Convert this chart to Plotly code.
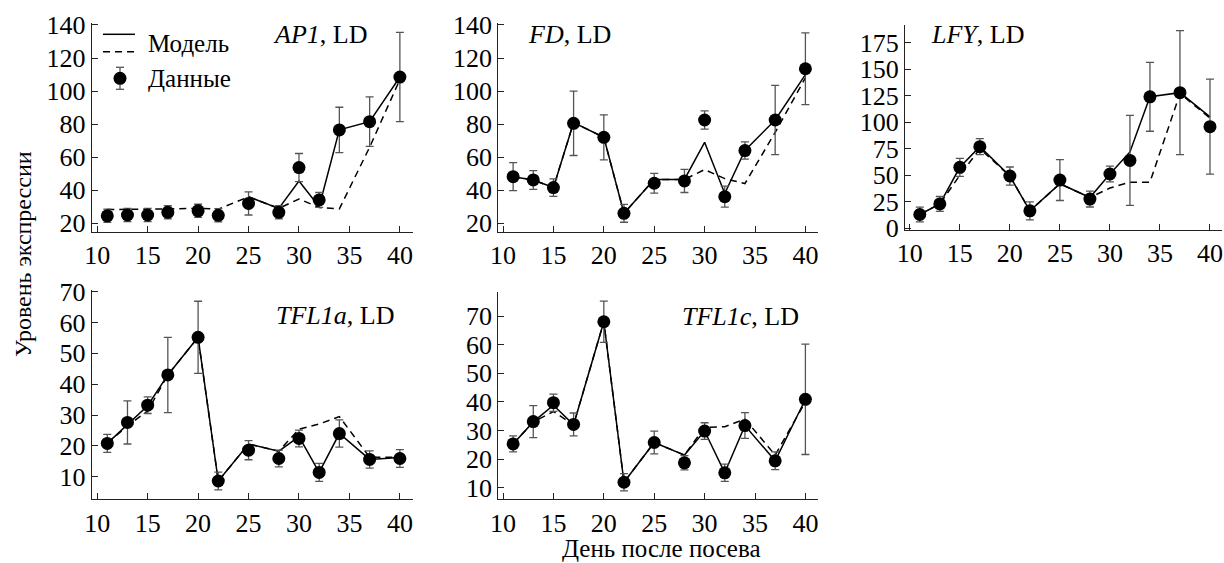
import plotly.graph_objects as go

# ---------------- data ----------------
days = [11, 13, 15, 17, 20, 22, 25, 28, 30, 32, 34, 37, 40]

ap1_data = [24.5, 25, 25, 26.6, 27.5, 24.8, 32, 26.6, 53.7, 34.1, 76.5, 81.5, 108.5]
ap1_err = [4, 4, 4, 4, 4, 4, 7, 4, 8.5, 4.5, 13.7, 15, 27]
ap1_model = [None, None, None, None, None, None, 36, 29, 45.5, 30, 76.5, 81.5, 108.5]
ap1_model2 = [28.3, 28.3, 28.5, 28.7, 29, 28.5, 36, 29, 34.7, 29.5, 28.7, 66, 107]

fd_data = [48.2, 46.2, 41.6, 80.5, 72, 26, 44.2, 45.6, 82.5, 36.1, 64, 82.5, 113.5]
fd_err = [8.5, 5.7, 5.3, 19.5, 13.6, 5.4, 6, 7, 5.5, 6.4, 5.2, 21, 21.7]
fd_model = [48.2, 46.2, 41.6, 81, 72, 26, 46.5, 46.5, 69, 38, 64, 82.5, 110]
fd_model2 = [48.2, 46.2, 41.6, 81, 72, 26, 46.5, 46.5, 52.5, 47, 44, 75, 108]

lfy_data = [13, 23, 57.5, 77, 49.3, 16.5, 45.5, 27.6, 51.2, 64, 124, 127.9, 95.8]
lfy_err = [7, 7, 8.5, 7.5, 8.5, 8.5, 19.3, 7.5, 7.4, 42.4, 32.5, 58.5, 44.8]
lfy_model = [13, 23, 57.5, 77, 49.3, 16.5, 42, 29, 51.2, 72, 124, 127.9, 105]
lfy_model2 = [13, 23, 50, 75, 49.3, 16.5, 42, 29, 38, 43.5, 43.5, 127, 104]

tfl1a_data = [20.8, 27.6, 33.2, 43, 55.2, 8.6, 18.6, 15.9, 22.4, 11.4, 24, 15.6, 15.9]
tfl1a_err = [2.9, 7, 2.7, 12.2, 11.7, 2.9, 3.1, 2.7, 2.7, 2.9, 4.4, 2.8, 2.9]
tfl1a_model = [20.8, 27, 33, 43, 55.2, 8.6, 20.6, 18.3, 23, 11.4, 24, 15.6, 16.2]
tfl1a_model2 = [20.8, 26.5, 31.3, 43, 55.2, 8.6, 20.6, 18.3, 25.4, 27.1, 29.5, 16.3, 16.3]

tfl1c_data = [25.3, 33.1, 39.7, 32.1, 68, 11.9, 25.8, 18.7, 29.8, 15.2, 31.7, 19.4, 40.9]
tfl1c_err = [2.8, 5.6, 3, 4, 7.2, 3, 4, 2.5, 2.9, 3, 4.5, 3.1, 19.3]
tfl1c_model = [25.3, 33, 38.8, 32, 68, 11.9, 25.8, 21.4, 29.8, 15.2, 31.7, 19.4, 40.9]
tfl1c_model2 = [25.3, 33, 36.6, 32, 68, 11.9, 25.8, 21.4, 31.1, 31.3, 34, 21.4, 40]

panel_titles = ["<i>AP1</i>, LD", "<i>FD</i>, LD", "<i>LFY</i>, LD",
                "<i>TFL1a</i>, LD", "<i>TFL1c</i>, LD"]
x_ticks = [10, 15, 20, 25, 30, 35, 40]
y_ticks = [list(range(20, 141, 20)), list(range(20, 141, 20)), list(range(0, 176, 25)),
           list(range(10, 71, 10)), list(range(10, 71, 10))]

legend_labels = ["Модель", "Данные"]
xlabel = "День после посева"
ylabel = "Уровень экспрессии"

# ---------------- layout geometry ----------------
W, H = 1224, 563
FONT = "Liberation Serif"


def fx(p):
    return p / W


def fy(p):
    return 1 - p / H


# (left px, right px, top px, bottom px, xrange, yrange)
panels = [
    (91.7, 413, 23, 232, [9.455, 41.3], [14.7, 141.2]),
    (498.3, 818, 23, 232, [9.53, 41.25], [14.7, 141.2]),
    (905, 1222, 25, 230, [9.52, 41.2], [-1.6, 191.7]),
    (91.7, 413, 290, 499.3, [9.455, 41.3], [2.67, 70.55]),
    (498.3, 818, 291.7, 499.3, [9.53, 41.25], [5.94, 78.5]),
]

series = [
    (ap1_data, ap1_err, ap1_model, ap1_model2),
    (fd_data, fd_err, fd_model, fd_model2),
    (lfy_data, lfy_err, lfy_model, lfy_model2),
    (tfl1a_data, tfl1a_err, tfl1a_model, tfl1a_model2),
    (tfl1c_data, tfl1c_err, tfl1c_model, tfl1c_model2),
]

fig = go.Figure()
layout = dict(
    width=W, height=H,
    margin=dict(l=0, r=0, t=0, b=0, autoexpand=False),
    paper_bgcolor="white", plot_bgcolor="white",
    showlegend=False,
    font=dict(family=FONT, size=24, color="black"),
)

axis_common = dict(
    showline=True, linecolor="#222", linewidth=1,
    ticks="inside", ticklen=6, tickcolor="#222", tickwidth=1,
    showgrid=False, zeroline=False, automargin=False,
    tickfont=dict(family=FONT, size=26, color="black"),
)

for i, ((l, r, t, b, xr, yr), (dat, err, m1, m2)) in enumerate(zip(panels, series)):
    n = i + 1
    xa = "x" if n == 1 else f"x{n}"
    ya = "y" if n == 1 else f"y{n}"
    layout["xaxis" if n == 1 else f"xaxis{n}"] = dict(
        axis_common, domain=[fx(l), fx(r)], range=xr, anchor=ya,
        tickvals=x_ticks)
    layout["yaxis" if n == 1 else f"yaxis{n}"] = dict(
        axis_common, domain=[fy(b), fy(t)], range=yr, anchor=xa,
        tickvals=y_ticks[i])

    fig.add_trace(go.Scatter(x=days, y=m2, mode="lines", xaxis=xa, yaxis=ya,
                             line=dict(color="black", width=1.5, dash="7px,5px"),
                             connectgaps=False, hoverinfo="skip"))
    fig.add_trace(go.Scatter(x=days, y=m1, mode="lines", xaxis=xa, yaxis=ya,
                             line=dict(color="black", width=1.5),
                             connectgaps=False, hoverinfo="skip"))
    fig.add_trace(go.Scatter(x=days, y=dat, mode="markers", xaxis=xa, yaxis=ya,
                             marker=dict(color="black", size=13, symbol="circle"),
                             error_y=dict(type="data", array=err, visible=True,
                                          color="#555555", thickness=1.3, width=4)))

fig.update_layout(**layout)

# panel titles
title_pos = [
    (369, 34, "right"),
    (526, 34, "left"),
    (929, 34, "left"),
    (396, 315, "right"),
    (801, 316, "right"),
]
for txt, (px, py, anc) in zip(panel_titles, title_pos):
    fig.add_annotation(text=txt, x=fx(px), y=fy(py), xref="paper", yref="paper",
                       xanchor=anc, yanchor="middle", showarrow=False,
                       font=dict(family=FONT, size=26, color="black"))

# axis titles
fig.add_annotation(text=xlabel, x=fx(661), y=0, xref="paper", yref="paper",
                   xanchor="center", yanchor="bottom", showarrow=False, borderpad=0,
                   font=dict(family=FONT, size=25, color="black"))
fig.add_annotation(text=ylabel, x=fx(23), y=fy(254), xref="paper", yref="paper",
                   xanchor="center", yanchor="middle", showarrow=False, textangle=-90,
                   font=dict(family=FONT, size=24, color="black"))

# legend (drawn manually in panel 1)
fig.add_shape(type="line", xref="paper", yref="paper",
              x0=fx(103), x1=fx(135), y0=fy(34.3), y1=fy(34.3),
              line=dict(color="black", width=1.5))
fig.add_shape(type="line", xref="paper", yref="paper",
              x0=fx(103), x1=fx(135), y0=fy(51.7), y1=fy(51.7),
              line=dict(color="black", width=1.5, dash="7px,5px"))
fig.add_annotation(text=legend_labels[0], x=fx(146), y=fy(43), xref="paper", yref="paper",
                   xanchor="left", yanchor="middle", showarrow=False,
                   font=dict(family=FONT, size=25, color="black"))
fig.add_annotation(text=legend_labels[1], x=fx(146), y=fy(78.3), xref="paper", yref="paper",
                   xanchor="left", yanchor="middle", showarrow=False,
                   font=dict(family=FONT, size=25, color="black"))
# legend marker with error bar
lx, ly = 120, 78.3
fig.add_shape(type="line", xref="paper", yref="paper",
              x0=fx(lx), x1=fx(lx), y0=fy(ly - 11), y1=fy(ly + 11),
              line=dict(color="#555555", width=1.3))
for dy in (-11, 11):
    fig.add_shape(type="line", xref="paper", yref="paper",
                  x0=fx(lx - 4), x1=fx(lx + 4), y0=fy(ly + dy), y1=fy(ly + dy),
                  line=dict(color="#555555", width=1.3))
fig.add_shape(type="circle", xref="paper", yref="paper",
              xsizemode="pixel", ysizemode="pixel",
              xanchor=fx(lx), yanchor=fy(ly),
              x0=-6.5, x1=6.5, y0=-6.5, y1=6.5,
              fillcolor="black", line=dict(color="black", width=0))

fig.write_html("out.html")
